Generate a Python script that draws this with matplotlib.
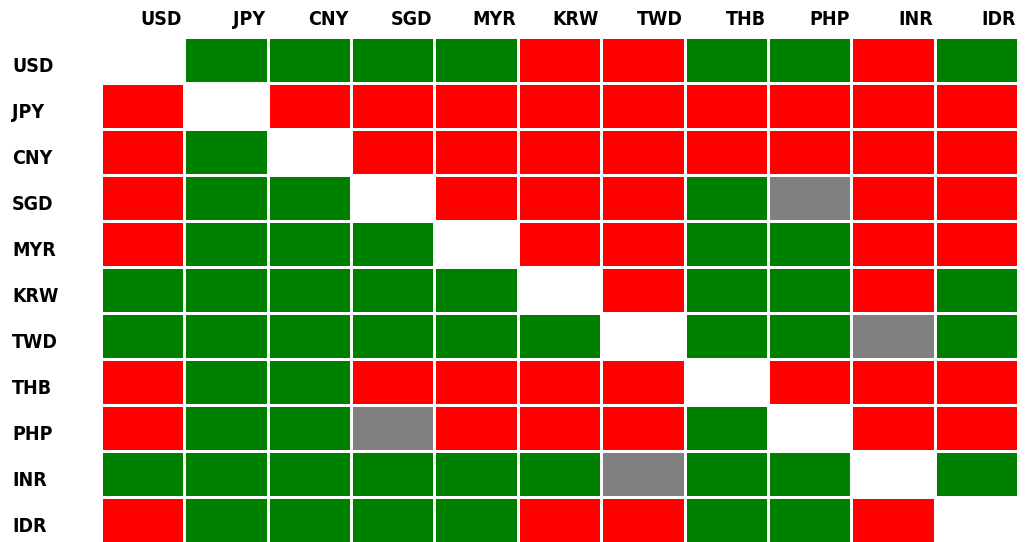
import numpy as np
import matplotlib

matplotlib.use("Agg")
import matplotlib.pyplot as plt  # noqa: E402
from matplotlib.colors import ListedColormap, BoundaryNorm  # noqa: E402
from matplotlib.transforms import blended_transform_factory  # noqa: E402

currencies = ["USD", "JPY", "CNY", "SGD", "MYR", "KRW", "TWD", "THB", "PHP", "INR", "IDR"]

# 1 = green, -1 = red, 0 = grey, nan = diagonal (blank)
n = np.nan
signals = [
    [n, 1, 1, 1, 1, -1, -1, 1, 1, -1, 1],
    [-1, n, -1, -1, -1, -1, -1, -1, -1, -1, -1],
    [-1, 1, n, -1, -1, -1, -1, -1, -1, -1, -1],
    [-1, 1, 1, n, -1, -1, -1, 1, 0, -1, -1],
    [-1, 1, 1, 1, n, -1, -1, 1, 1, -1, -1],
    [1, 1, 1, 1, 1, n, -1, 1, 1, -1, 1],
    [1, 1, 1, 1, 1, 1, n, 1, 1, 0, 1],
    [-1, 1, 1, -1, -1, -1, -1, n, -1, -1, -1],
    [-1, 1, 1, 0, -1, -1, -1, 1, n, -1, -1],
    [1, 1, 1, 1, 1, 1, 0, 1, 1, n, 1],
    [-1, 1, 1, 1, 1, -1, -1, 1, 1, -1, n],
]

W, H = 1027, 542
fig = plt.figure(figsize=(W / 100, H / 100), dpi=100)
# grid spans roughly x 101..1018, y 37..543 in pixels
ax = fig.add_axes([100.8 / W, (H - 542.8) / H, 917.5 / W, 506 / H])

data = np.ma.masked_invalid(np.array(signals, dtype=float))
cmap = ListedColormap(["#ff0000", "#808080", "#008000"])
norm = BoundaryNorm([-1.5, -0.5, 0.5, 1.5], cmap.N)
ax.pcolormesh(data, cmap=cmap, norm=norm, edgecolors="white", linewidth=1.8)
ax.set_xlim(0, len(currencies))
ax.set_ylim(len(currencies), 0)
ax.axis("off")

font = dict(family="DejaVu Sans", fontstretch="condensed",
            fontweight="bold", fontsize=14)
for j, c in enumerate(currencies):
    ax.text(j + 0.975, -0.38, c, ha="right", va="center", **font)

row_tr = blended_transform_factory(fig.transFigure, ax.transData)
for i, c in enumerate(currencies):
    fig.text(12 / W, i + 0.65, c, ha="left", va="center", transform=row_tr, **font)

fig.savefig("out.png", dpi=100)
